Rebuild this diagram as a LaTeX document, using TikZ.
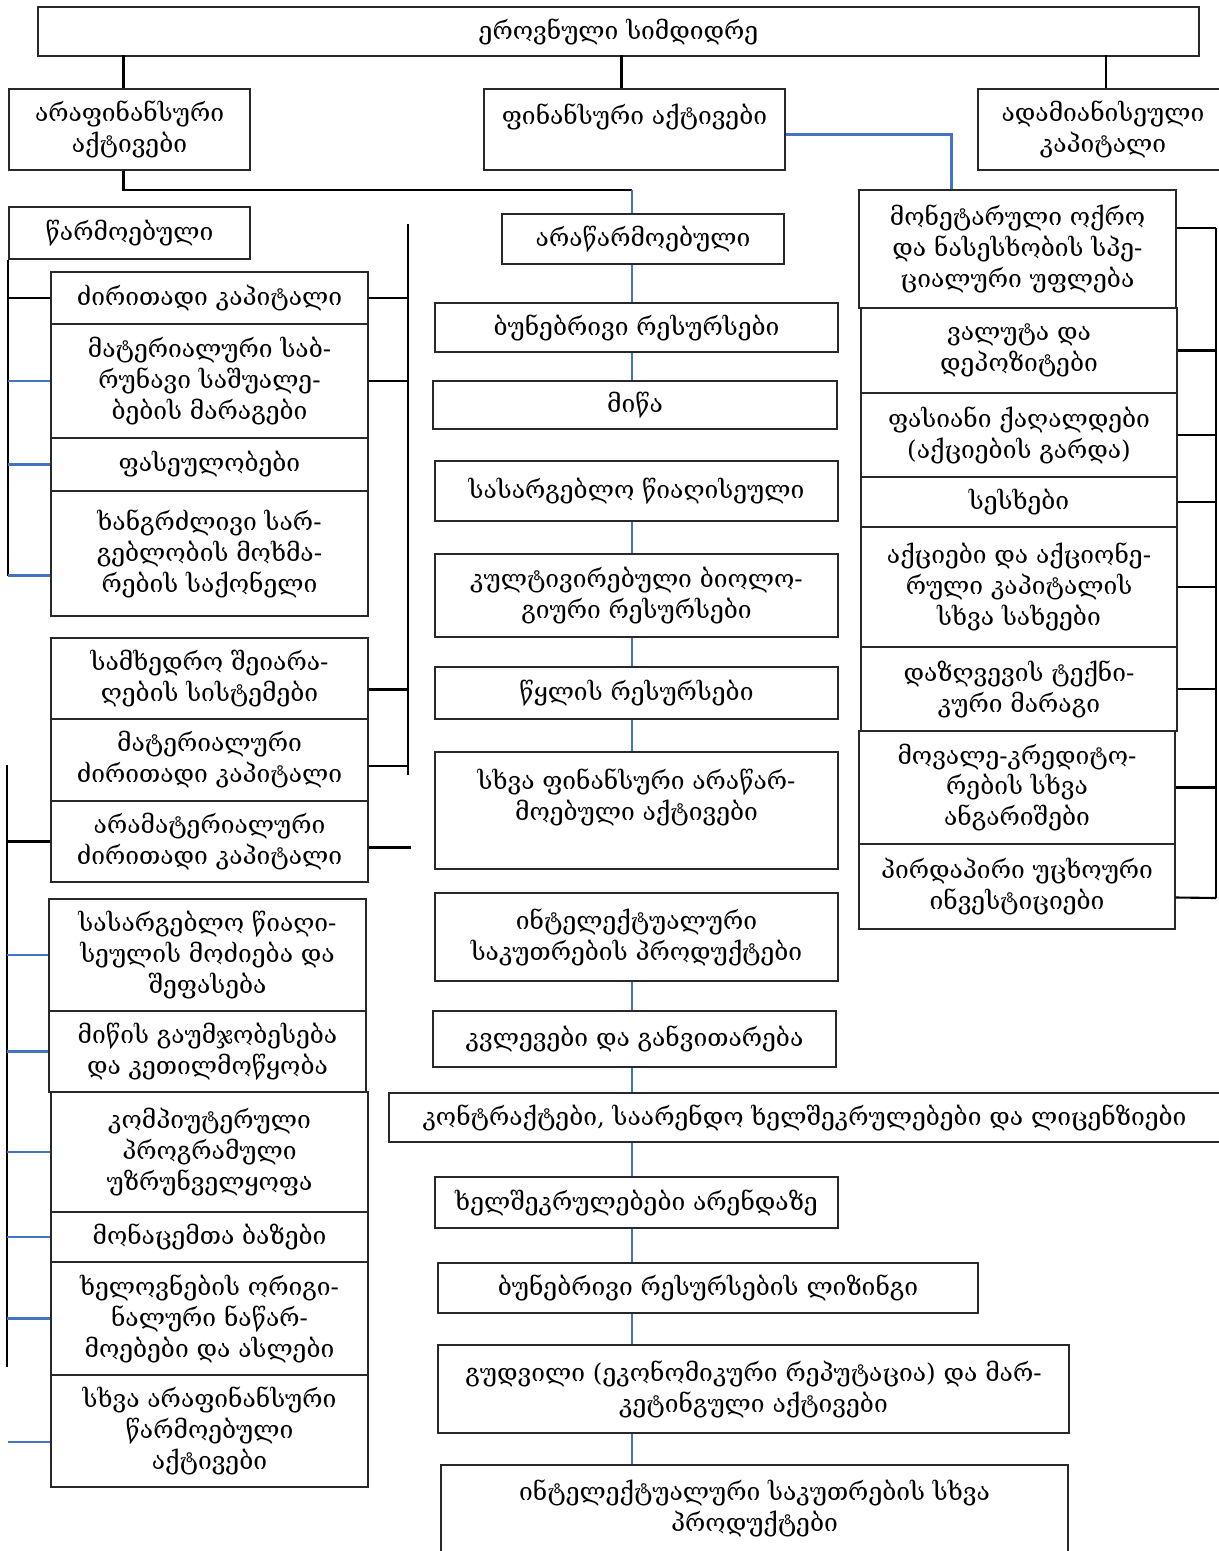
\documentclass[tikz,border=0pt]{standalone}
\usepackage{fontspec}
\usepackage{xcolor}
\usetikzlibrary{calc}
\newfontfamily\geo{DejaVu Serif}
\definecolor{boxgray}{RGB}{40,40,40}
\definecolor{linkblue}{RGB}{68,114,196}
% box from its corners (x1,y1) (x2,y2), in pixels
\newcommand{\geobox}[6]{%
  \node[box, minimum width={(#4-#2)*0.025cm}, minimum height={(#5-#3)*0.025cm}]
    (#1) at ({(#2+#4)/2},{(#3+#5)/2}) {#6};}

\begin{document}
\begin{tikzpicture}[x=0.025cm, y=-0.025cm,
  box/.style={draw=boxgray, line width=1pt, align=center, inner sep=0pt,
    font=\geo\fontsize{17.5}{22}\selectfont},
  conn/.style={line width=1.5pt},
  bconn/.style={linkblue, line width=1.5pt}]

\useasboundingbox (0,0) rectangle (1218,1551);

% top levels
\geobox{root}{38}{7}{1199}{56}{ეროვნული სიმდიდრე}
\geobox{arafin}{9}{89}{250}{170}{არაფინანსური\\აქტივები}
\geobox{fin}{484}{89}{785}{170}{ფინანსური აქტივები\\\mbox{}}
\geobox{adam}{978}{89}{1228}{170}{ადამიანისეული\\კაპიტალი}

% left column
\geobox{warm}{9}{207}{250}{259}{წარმოებული}
\geobox{dk}{51}{272}{368}{324}{ძირითადი კაპიტალი}
\geobox{mat}{51}{324}{368}{438}{მატერიალური საბ-\\რუნავი საშუალე-\\ბების მარაგები}
\geobox{fas}{51}{438}{368}{491}{ფასეულობები}
\geobox{khan}{51}{491}{368}{616}{ხანგრძლივი სარ-\\გებლობის მოხმა-\\რების საქონელი}
\geobox{samx}{51}{638}{368}{719}{სამხედრო შეიარა-\\ღების სისტემები}
\geobox{matdk}{51}{719}{368}{801}{მატერიალური\\ძირითადი კაპიტალი}
\geobox{aramat}{51}{801}{368}{882}{არამატერიალური\\ძირითადი კაპიტალი}
\geobox{sasw}{49}{899}{366}{1011}{სასარგებლო წიაღი-\\სეულის მოძიება და\\შეფასება}
\geobox{miwis}{49}{1011}{366}{1092}{მიწის გაუმჯობესება\\და კეთილმოწყობა}
\geobox{komp}{51}{1092}{368}{1212}{კომპიუტერული\\პროგრამული\\უზრუნველყოფა}
\geobox{mon}{51}{1212}{368}{1262}{მონაცემთა ბაზები}
\geobox{xelov}{51}{1262}{368}{1375}{ხელოვნების ორიგი-\\ნალური ნაწარ-\\მოებები და ასლები}
\geobox{sxvaar}{51}{1375}{368}{1487}{სხვა არაფინანსური\\წარმოებული\\აქტივები}

% middle column
\geobox{arawar}{502}{214}{784}{264}{არაწარმოებული}
\geobox{bunres}{435}{303}{838}{352}{ბუნებრივი რესურსები}
\geobox{miwa}{433}{381}{837}{429}{მიწა}
\geobox{wiagh}{435}{461}{838}{521}{სასარგებლო წიაღისეული}
\geobox{kult}{435}{554}{838}{637}{კულტივირებული ბიოლო-\\გიური რესურსები}
\geobox{wylis}{435}{667}{838}{719}{წყლის რესურსები}
\geobox{sxvafin}{435}{752}{838}{869}{სხვა ფინანსური არაწარ-\\მოებული  აქტივები\\\mbox{}}
\geobox{intel}{435}{893}{838}{981}{ინტელექტუალური\\საკუთრების პროდუქტები}
\geobox{kvl}{433}{1011}{836}{1067}{კვლევები და განვითარება}
\geobox{kontr}{389}{1093}{1220}{1142}{კონტრაქტები, საარენდო ხელშეკრულებები და ლიცენზიები}
\geobox{xelsh}{435}{1177}{838}{1228}{ხელშეკრულებები არენდაზე}
\geobox{liz}{438}{1263}{978}{1313}{ბუნებრივი რესურსების ლიზინგი}
\geobox{gud}{438}{1345}{1069}{1433}{გუდვილი (ეკონომიკური რეპუტაცია) და მარ-\\კეტინგული აქტივები}
\geobox{intsx}{441}{1465}{1068}{1577}{ინტელექტუალური საკუთრების სხვა\\პროდუქტები\\\mbox{}}

% right column
\geobox{monet}{859}{190}{1176}{308}{მონეტარული ოქრო\\და ნასესხობის სპე-\\ციალური უფლება}
\geobox{val}{861}{308}{1177}{393}{ვალუტა და\\დეპოზიტები}
\geobox{fasq}{861}{393}{1177}{477}{ფასიანი ქაღალდები\\(აქციების გარდა)}
\geobox{ses}{861}{477}{1177}{527}{სესხები}
\geobox{aqc}{861}{527}{1177}{647}{აქციები და აქციონე-\\რული კაპიტალის\\სხვა სახეები}
\geobox{daz}{861}{647}{1177}{731}{დაზღვევის ტექნი-\\კური მარაგი}
\geobox{mov}{859}{731}{1175}{844}{მოვალე-კრედიტო-\\რების სხვა\\ანგარიშები}
\geobox{pird}{859}{844}{1175}{929}{პირდაპირი უცხოური\\ინვესტიციები}

% bus ends
\coordinate (split) at (632,190);
\coordinate (rbtop) at (408,224);
\coordinate (rbbot) at (408,775);
\coordinate (lltop) at (7,765);
\coordinate (llbot) at (7,1367);
\coordinate (rrtop) at (1216,228);
\coordinate (rrbot) at (1216,898);
\coordinate (lb) at ($(khan.west)+(0,22)$);

% top links
\draw[conn] ($(arafin.north)+(-6,0)$) -- ($(arafin.north)+(-6,-33)$);
\draw[conn] ($(fin.north)+(-13,0)$) -- ($(fin.north)+(-13,-33)$);
\draw[conn] ($(adam.north)+(3,0)$) -- ($(adam.north)+(3,-33)$);
\draw[conn] ($(arafin.south)+(-6,0)$) |- (split);
\draw[bconn] (split) -- (split |- arawar.north);
\draw[bconn] ($(fin.east)+(0,5)$) -| ($(monet.north)+(-66,0)$);

% left buses
\draw[conn] (warm.south west) -- (warm.south west |- lb);
\draw[conn] (warm.south west |- dk.west) -- (dk.west);
\foreach \n in {mat,fas}
  \draw[bconn] (warm.south west |- \n.west) -- (\n.west);
\draw[bconn] (warm.south west |- lb) -- (lb);

\draw[conn] (rbtop) -- (rbbot);
\foreach \n in {dk,mat}
  \draw[conn] (\n.east) -- (\n.east -| rbtop);
\draw[conn] ($(samx.east)+(0,11)$) -- ($(samx.east)+(40,11)$);
\draw[conn] ($(matdk.east)+(0,6)$) -- ($(matdk.east)+(40,6)$);
\draw[conn] ($(aramat.east)+(0,6)$) -- ($(aramat.east)+(42,6)$);

\draw[conn] (lltop) -- (llbot);
\draw[conn] (lltop |- aramat.west) -- (aramat.west);
\foreach \n in {sasw,miwis,komp,mon,xelov}
  \draw[bconn] (lltop |- \n.west) -- (\n.west);
\draw[bconn] ($(sxvaar.west)+(-42,11)$) -- ($(sxvaar.west)+(0,11)$);

% middle chain
\foreach \a/\b in {arawar/bunres,bunres/miwa,wiagh/kult,kult/wylis,wylis/sxvafin,
    intel/kvl,kvl/kontr,kontr/xelsh,xelsh/liz,liz/gud,gud/intsx}
  \draw[bconn] (split |- \a.south) -- (split |- \b.north);

% right bus
\draw[conn] (rrtop) -- (rrbot);
\draw[conn] ($(monet.east)+(0,-21)$) -- (rrtop);
\foreach \n in {val,fasq,ses,aqc,daz,mov}
  \draw[conn] (\n.east) -- (\n.east -| rrtop);
\draw[conn] ($(pird.east)+(0,11)$) -- (rrbot);

\end{tikzpicture}
\end{document}
